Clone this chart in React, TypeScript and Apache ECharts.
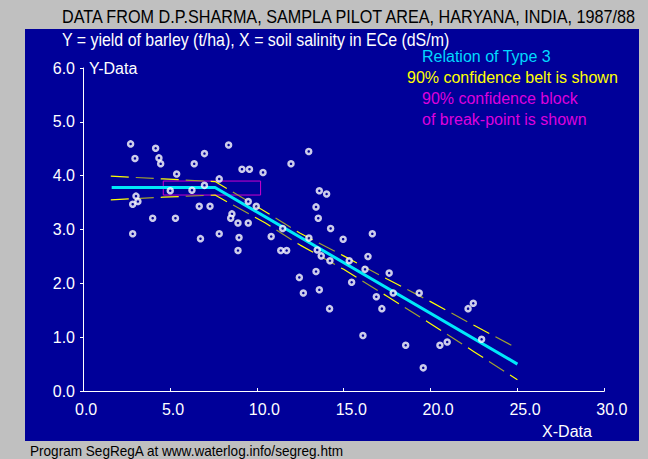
import React, { useEffect, useRef } from "react";
import * as echarts from "echarts";

// Observed data: X = soil salinity ECe (dS/m), Y = barley yield (t/ha)
const salinityX = [
  2.74, 4.18, 2.99, 4.37, 4.47, 6.99, 8.38, 6.40, 5.39, 9.15, 9.58, 10.36, 7.84, 5.02, 6.27, 6.99,
  3.05, 2.86, 3.16, 6.69, 7.31, 4.01, 5.32, 2.86, 7.84, 6.76, 8.92, 8.98, 9.51, 9.97, 8.57, 8.50,
  8.92, 9.51, 10.83, 12.99, 11.97, 13.60, 14.02, 13.41, 13.54, 14.25, 16.65, 14.97, 11.49, 13.00,
  11.38, 11.72, 13.48, 13.71, 14.21, 15.32, 16.40, 16.23, 17.62, 13.41, 12.45, 15.46, 12.68, 13.60,
  16.88, 17.85, 17.20, 14.19, 19.35, 22.46, 22.16, 16.11, 18.57, 20.54, 20.96, 22.94, 19.58,
];
const yieldY = [
  4.59, 4.51, 4.32, 4.33, 4.22, 4.41, 4.57, 4.22, 4.03, 4.12, 4.12, 4.06, 3.94, 3.72, 3.73, 3.82,
  3.62, 3.47, 3.52, 3.43, 3.43, 3.21, 3.21, 2.92, 2.92, 2.83, 2.61, 2.85, 3.52, 3.43, 3.29, 3.21,
  3.12, 3.12, 2.87, 4.45, 4.22, 3.72, 3.66, 3.42, 3.21, 3.02, 2.92, 2.82, 3.02, 2.84,
  2.61, 2.61, 2.62, 2.51, 2.42, 2.42, 2.50, 2.26, 2.19, 2.22, 2.11, 2.02, 1.82, 1.88,
  1.75, 1.82, 1.53, 1.53, 1.82, 1.63, 1.53, 1.03, 0.85, 0.85, 0.91, 0.96, 0.43,
];

// Fitted segmented relation (type 3)
const fitX = [1.65, 7.6, 25.0];
const fitY = [3.78, 3.78, 0.5];

// 90% confidence belt
const beltX = [1.6, 4.6, 7.6, 8.6, 10.5, 12.5, 15, 17.5, 20, 22.5, 25];
const beltUpper = [3.99, 3.94, 3.89, 3.7, 3.33, 2.93, 2.51, 2.08, 1.66, 1.22, 0.79];
const beltLower = [3.55, 3.6, 3.64, 3.46, 3.12, 2.71, 2.26, 1.76, 1.25, 0.73, 0.21];

// 90% confidence block of break-point
const blockX = [4.62, 10.22];
const blockY = [3.9, 3.64];

const xTicks = { min: 0, max: 30, interval: 5 };
const yTicks = { min: 0, max: 6, interval: 1 };

const FONT = "'Liberation Sans', Arial, sans-serif";
const BLUE = "#000099";

const zip = (a: number[], b: number[]) => a.map((v, i) => [v, b[i]]);

export default function App() {
  const ref = useRef<HTMLDivElement>(null);
  useEffect(() => {
    document.body.style.margin = "0";
    if (!ref.current) return;
    const chart = echarts.init(ref.current, undefined, { renderer: "svg" });
    const beltSeries = (data: number[][], color: string, offset: number) => ({
      type: "line",
      data,
      symbol: "none",
      silent: true,
      z: 3,
      lineStyle: { color, width: 1.2, type: [18, 32], dashOffset: offset },
    });
    const upper = zip(beltX, beltUpper);
    const lower = zip(beltX, beltLower);
    chart.setOption({
      animation: false,
      backgroundColor: "#c0c0c0",
      textStyle: { fontFamily: FONT },
      grid: { left: 83, right: 43.7, top: 68, bottom: 68, containLabel: false },
      xAxis: {
        type: "value",
        min: xTicks.min,
        max: xTicks.max,
        interval: xTicks.interval,
        splitLine: { show: false },
        axisLine: { show: true, onZero: false, lineStyle: { color: "#ffffff", width: 1 } },
        axisTick: { show: true, inside: true, length: 3, lineStyle: { color: "#ffffff" } },
        axisLabel: {
          color: "#ffffff",
          fontSize: 16,
          fontFamily: FONT,
          margin: 10,
          align: "left",
          padding: [0, 0, 0, -8],
          formatter: (v: number) => v.toFixed(1),
        },
      },
      yAxis: {
        type: "value",
        min: yTicks.min,
        max: yTicks.max,
        interval: yTicks.interval,
        name: "Y-Data",
        nameLocation: "end",
        nameGap: 0,
        nameTextStyle: {
          color: "#ffffff",
          fontSize: 16,
          fontFamily: FONT,
          align: "left",
          verticalAlign: "middle",
          padding: [0, 0, 0, 6],
        },
        splitLine: { show: false },
        axisLine: { show: true, onZero: false, lineStyle: { color: "#ffffff", width: 1 } },
        axisTick: { show: true, inside: false, length: 3, lineStyle: { color: "#ffffff" } },
        axisLabel: {
          color: "#ffffff",
          fontSize: 16,
          fontFamily: FONT,
          margin: 8,
          formatter: (v: number) => v.toFixed(1),
        },
      },
      graphic: [
        {
          type: "rect",
          z: -10,
          silent: true,
          shape: { x: 25, y: 29, width: 614, height: 412 },
          style: { fill: BLUE },
        },
        {
          type: "text",
          x: 62,
          y: 17,
          scaleX: 0.9,
          z: 100,
          style: {
            text: "DATA FROM D.P.SHARMA, SAMPLA PILOT AREA, HARYANA, INDIA, 1987/88",
            fill: "#000000",
            font: `18px ${FONT}`,
            verticalAlign: "middle",
          },
        },
        {
          type: "text",
          x: 62,
          y: 40,
          scaleX: 0.885,
          z: 100,
          style: {
            text: "Y = yield of barley (t/ha), X = soil salinity in ECe (dS/m)",
            fill: "#ffffff",
            font: `18px ${FONT}`,
            verticalAlign: "middle",
          },
        },
        {
          type: "text",
          x: 422,
          y: 56,
          z: 100,
          style: { text: "Relation of Type 3", fill: "#00d8ff", font: `16px ${FONT}`, verticalAlign: "middle" },
        },
        {
          type: "text",
          x: 407,
          y: 77,
          z: 100,
          style: { text: "90% confidence belt is shown", fill: "#ffff00", font: `16px ${FONT}`, verticalAlign: "middle" },
        },
        {
          type: "text",
          x: 422,
          y: 98,
          z: 100,
          style: { text: "90% confidence block", fill: "#dd00dd", font: `16px ${FONT}`, verticalAlign: "middle" },
        },
        {
          type: "text",
          x: 422,
          y: 119,
          z: 100,
          style: { text: "of break-point is shown", fill: "#dd00dd", font: `16px ${FONT}`, verticalAlign: "middle" },
        },
        {
          type: "text",
          x: 567,
          y: 431,
          z: 100,
          style: { text: "X-Data", fill: "#ffffff", font: `16px ${FONT}`, align: "center", verticalAlign: "middle" },
        },
        {
          type: "text",
          x: 30,
          y: 451,
          scaleX: 0.97,
          z: 100,
          style: {
            text: "Program SegRegA at www.waterlog.info/segreg.htm",
            fill: "#000000",
            font: `14px ${FONT}`,
            verticalAlign: "middle",
          },
        },
      ],
      series: [
        beltSeries(upper, "#ffff00", 0),
        beltSeries(upper, "#a0a030", 25),
        beltSeries(lower, "#ffff00", 0),
        beltSeries(lower, "#a0a030", 25),
        {
          type: "line",
          data: zip(fitX, fitY),
          symbol: "none",
          silent: true,
          z: 4,
          lineStyle: { color: "#00e8f8", width: 3 },
          markArea: {
            silent: true,
            itemStyle: { color: "rgba(0,0,0,0)", borderColor: "#cc00cc", borderWidth: 1 },
            data: [[{ coord: [blockX[0], blockY[0]] }, { coord: [blockX[1], blockY[1]] }]],
          },
        },
        {
          type: "scatter",
          data: zip(salinityX, yieldY),
          symbol: "circle",
          symbolSize: 5,
          z: 5,
          itemStyle: { color: BLUE, borderColor: "#ffffff", borderWidth: 2.5 },
        },
      ],
    });
    return () => chart.dispose();
  }, []);
  return <div ref={ref} style={{ width: 648, height: 459 }} />;
}
